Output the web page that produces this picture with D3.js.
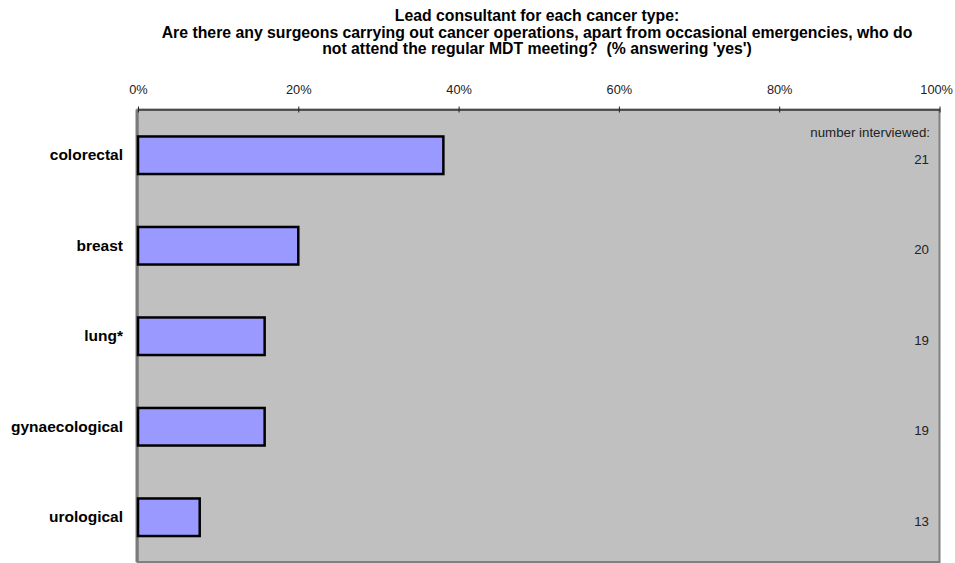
<!DOCTYPE html>
<html>
<head>
<meta charset="utf-8">
<script src="https://cdn.jsdelivr.net/npm/d3@7"></script>
<style>
  html, body { margin: 0; padding: 0; background: #ffffff; }
  svg { display: block; font-family: "Liberation Sans", Arial, sans-serif; }
  svg text { white-space: pre; }
</style>
</head>
<body>
<svg id="chart" width="955" height="563"></svg>
<script>
// Survey results: share of lead consultants answering 'yes', per cancer type
const categories = ["colorectal", "breast", "lung*", "gynaecological", "urological"];
const percentYes = [38.1, 20.0, 15.8, 15.8, 7.7];
const numberInterviewed = [21, 20, 19, 19, 13];
const tickValues = [0, 20, 40, 60, 80, 100];
const titleLines = [
  "Lead consultant for each cancer type:",
  "Are there any surgeons carrying out cancer operations, apart from occasional emergencies, who do",
  "not attend the regular MDT meeting?  (% answering 'yes')"
];
const countHeader = "number interviewed:";

const width = 955;
const svg = d3.select("#chart");
const plot = { left: 137.5, right: 939.5, top: 109.5, bottom: 562 };

const x = d3.scaleLinear().domain([0, 100]).range([plot.left + 0.5, plot.right]);
const y = d3.scaleBand()
  .domain(categories)
  .range([plot.top + 0.5, plot.bottom + 0.5])
  .paddingInner(0.585)
  .paddingOuter(0.2925);

// Title
svg.append("g")
  .selectAll("text")
  .data(titleLines)
  .join("text")
  .attr("x", 537)
  .attr("y", (d, i) => 21 + i * 16.5)
  .attr("text-anchor", "middle")
  .attr("font-size", "15.8px")
  .attr("font-weight", "bold")
  .attr("fill", "#000")
  .text(d => d);

// Plot area background
svg.append("rect")
  .attr("x", plot.left)
  .attr("y", plot.top)
  .attr("width", plot.right - plot.left)
  .attr("height", plot.bottom - plot.top)
  .attr("fill", "#c0c0c0")
  .attr("stroke", "#808080")
  .attr("stroke-width", 2);

// Left category axis line
svg.append("line")
  .attr("x1", plot.left - 0.5).attr("x2", plot.left - 0.5)
  .attr("y1", plot.top).attr("y2", plot.bottom)
  .attr("stroke", "#7a7a7a")
  .attr("stroke-width", 3);

// Percentage axis along the top
const axis = svg.append("g")
  .attr("transform", `translate(0,${plot.top})`)
  .call(d3.axisTop(x)
    .tickValues(tickValues)
    .tickFormat(d => d + "%")
    .tickSizeInner(3)
    .tickSizeOuter(0)
    .tickPadding(13));
axis.select(".domain").attr("stroke", "#3a3a3a").attr("stroke-width", 1.5);
axis.selectAll(".tick line").attr("stroke", "#222").attr("y2", 3).attr("y1", -3);
axis.selectAll(".tick text")
  .attr("font-family", "'Liberation Sans', Arial, sans-serif")
  .attr("font-size", "12.8px")
  .attr("fill", "#222");

// Keep the outermost tick label inside the page
axis.selectAll(".tick").each(function () {
  const tick = d3.select(this);
  const label = tick.select("text").node();
  const box = label.getBBox();
  const tx = +tick.attr("transform").match(/translate\(([-\d.]+)/)[1];
  const overflow = tx + box.x + box.width - (width - 2);
  if (overflow > 0) d3.select(label).attr("x", -overflow);
});

// Bars
svg.append("g")
  .selectAll("rect")
  .data(categories)
  .join("rect")
  .attr("x", x(0))
  .attr("y", d => y(d))
  .attr("width", (d, i) => x(percentYes[i]) - x(0))
  .attr("height", y.bandwidth())
  .attr("fill", "#9999ff")
  .attr("stroke", "#000")
  .attr("stroke-width", 2.5);

// Category labels
svg.append("g")
  .selectAll("text")
  .data(categories)
  .join("text")
  .attr("x", 123)
  .attr("y", d => y(d) + y.bandwidth() / 2)
  .attr("dy", "0.33em")
  .attr("text-anchor", "end")
  .attr("font-size", "15.5px")
  .attr("font-weight", "bold")
  .attr("fill", "#000")
  .text(d => d);

// Number interviewed header and counts
svg.append("text")
  .attr("x", 930)
  .attr("y", 136.5)
  .attr("text-anchor", "end")
  .attr("font-size", "13.3px")
  .attr("fill", "#222")
  .text(countHeader);

svg.append("g")
  .selectAll("text")
  .data(categories)
  .join("text")
  .attr("x", 929)
  .attr("y", d => y(d) + y.bandwidth() / 2 + 4)
  .attr("dy", "0.35em")
  .attr("text-anchor", "end")
  .attr("font-size", "13.3px")
  .attr("fill", "#222")
  .text((d, i) => numberInterviewed[i]);
</script>
</body>
</html>
